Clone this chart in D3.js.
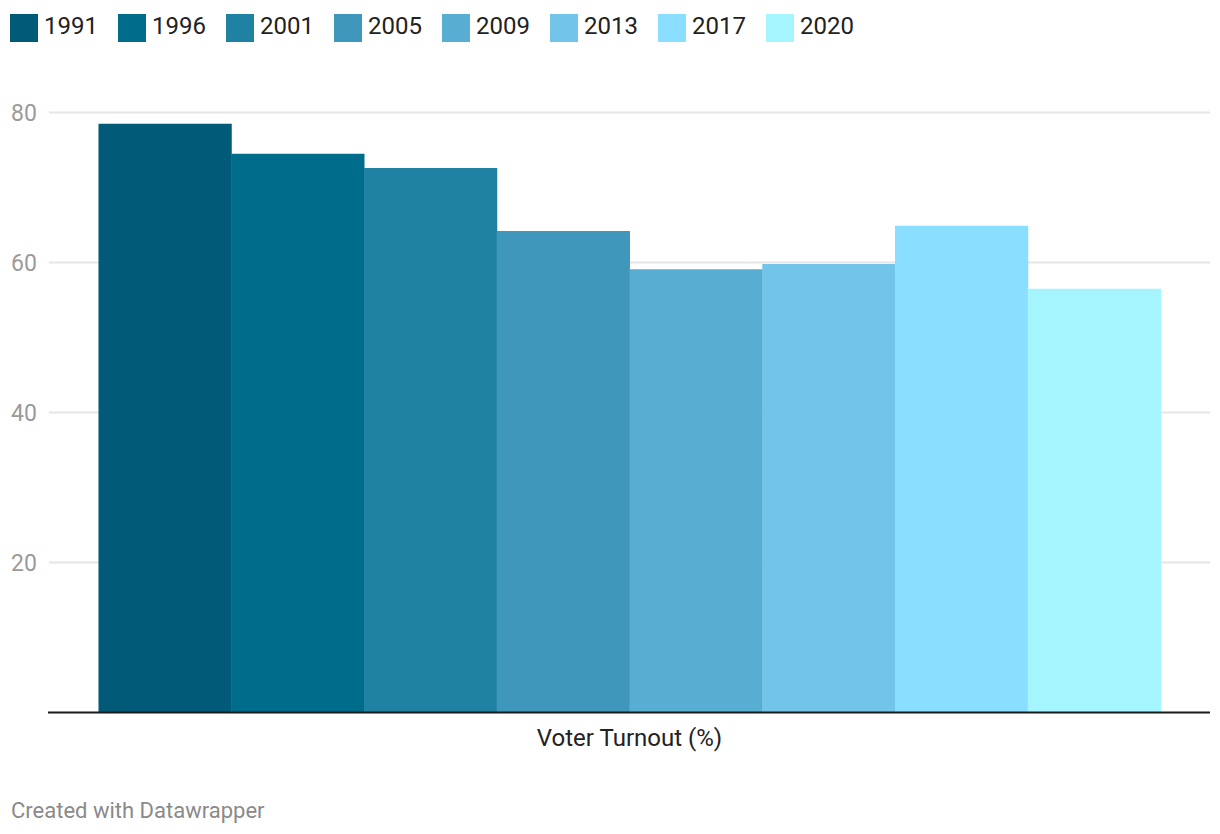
<!DOCTYPE html>
<html>
<head>
<meta charset="utf-8">
<script src="https://cdn.jsdelivr.net/npm/d3@7"></script>
<style>
  body { margin: 0; background: #fff; }
  text { font-family: Roboto, "Noto Sans", sans-serif; }
</style>
</head>
<body>
<div id="chart"></div>
<script>
// data
const category = ["Voter Turnout (%)"];
const years = ["1991", "1996", "2001", "2005", "2009", "2013", "2017", "2020"];
const turnout = [78.5, 74.5, 72.6, 64.2, 59.1, 59.8, 64.9, 56.5];
const yTicks = [20, 40, 60, 80];
const colors = ["#005a78", "#006c8c", "#1f82a2", "#3f98bb", "#58aed2", "#72c5e8", "#8adeff", "#a5f5ff"];

const width = 1220, height = 834;
const margin = { left: 49, right: 10, top: 0 };
const baseY = 712.5;

const svg = d3.select("#chart")
  .append("svg")
  .attr("width", width)
  .attr("height", height);

// y scale: 80 sits at y=112.5
const y = d3.scaleLinear().domain([0, 80]).range([baseY, 112.5]);

const x0 = d3.scaleBand()
  .domain(category)
  .range([margin.left, width - margin.right])
  .paddingInner(0)
  .paddingOuter(0.0466);

const x1 = d3.scaleBand()
  .domain(years)
  .range([0, x0.bandwidth()])
  .padding(0);

const color = d3.scaleOrdinal(years, colors);

// gridlines
const grid = svg.append("g");
grid.selectAll("line")
  .data(yTicks)
  .enter()
  .append("line")
  .attr("x1", margin.left)
  .attr("x2", width - margin.right)
  .attr("y1", d => y(d))
  .attr("y2", d => y(d))
  .attr("stroke", "#e5e5e5")
  .attr("stroke-width", 2);

grid.selectAll("text")
  .data(yTicks)
  .enter()
  .append("text")
  .attr("x", 11)
  .attr("y", d => y(d))
  .attr("dy", "0.36em")
  .attr("font-size", "23px")
  .attr("fill", "#9a9a9a")
  .text(d => d);

// bars
const rows = years.map((yr, i) => ({ year: yr, value: turnout[i] }));
svg.append("g")
  .selectAll("rect")
  .data(rows)
  .enter()
  .append("rect")
  .attr("x", d => x0(category[0]) + x1(d.year))
  .attr("y", d => y(d.value))
  .attr("width", x1.bandwidth() + 0.5)
  .attr("height", d => baseY - y(d.value))
  .attr("fill", d => color(d.year));

// baseline
svg.append("line")
  .attr("x1", 48)
  .attr("x2", width - margin.right)
  .attr("y1", baseY)
  .attr("y2", baseY)
  .attr("stroke", "#1a1a1a")
  .attr("stroke-width", 2);

// category label
svg.append("text")
  .attr("x", x0(category[0]) + x0.bandwidth() / 2)
  .attr("y", 746)
  .attr("text-anchor", "middle")
  .attr("font-size", "24px")
  .attr("fill", "#222")
  .text(category[0]);

// legend
const legend = svg.append("g")
  .selectAll("g")
  .data(years)
  .enter()
  .append("g")
  .attr("transform", (d, i) => `translate(${10 + i * 108}, 14)`);

legend.append("rect")
  .attr("width", 28)
  .attr("height", 28)
  .attr("fill", d => color(d));

legend.append("text")
  .attr("x", 34)
  .attr("y", 20)
  .attr("font-size", "24px")
  .attr("fill", "#222")
  .text(d => d);

// footer
svg.append("text")
  .attr("x", 11)
  .attr("y", 818)
  .attr("font-size", "22px")
  .attr("fill", "#8a8a8a")
  .text("Created with Datawrapper");
</script>
</body>
</html>
